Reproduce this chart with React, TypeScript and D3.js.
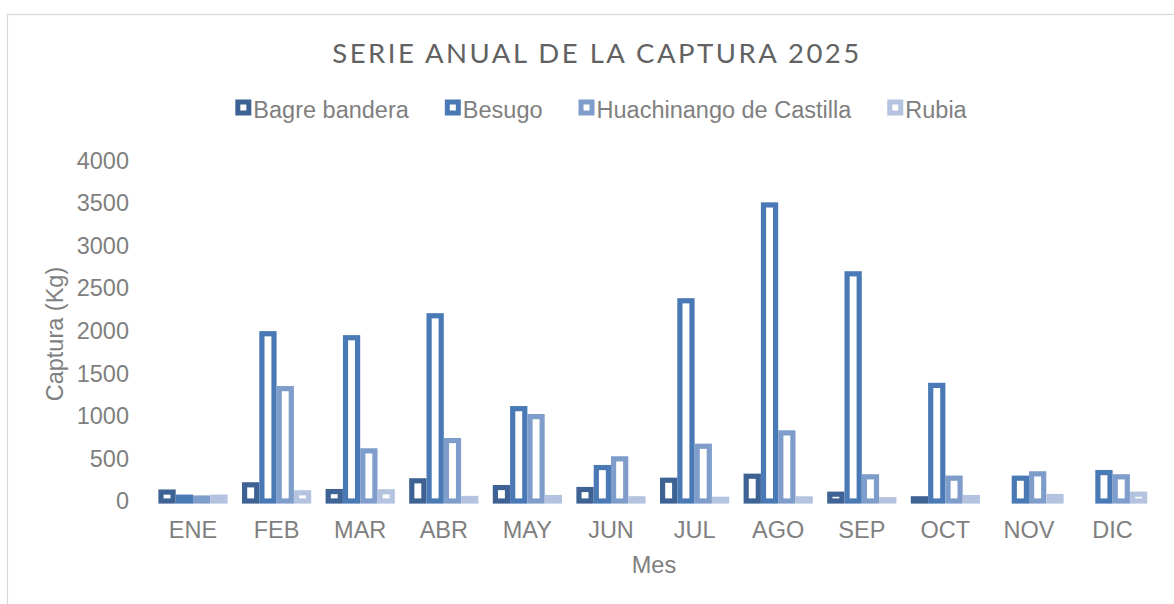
import React, { useEffect, useRef } from "react";
import * as d3 from "d3";

const months = ["ENE", "FEB", "MAR", "ABR", "MAY", "JUN", "JUL", "AGO", "SEP", "OCT", "NOV", "DIC"];
const seriesNames = ["Bagre bandera", "Besugo", "Huachinango de Castilla", "Rubia"];
const bagreBandera = [105, 190, 111, 237, 158, 135, 244, 291, 80, 26, 0, 0];
const besugo = [45, 1965, 1918, 2176, 1085, 393, 2352, 3478, 2669, 1358, 268, 334];
const huachinango = [35, 1320, 589, 710, 991, 495, 643, 800, 284, 268, 319, 284];
const rubia = [45, 96, 108, 30, 41, 26, 20, 25, 15, 41, 53, 80];
const yTicks = [0, 500, 1000, 1500, 2000, 2500, 3000, 3500, 4000];
const colors = ["#3D6293", "#4A7AB5", "#7F9DCB", "#B4C3E0"];

const W = 1174;
const H = 604;

export default function App() {
  const ref = useRef<SVGSVGElement | null>(null);

  useEffect(() => {
    const svg = d3.select(ref.current);
    svg.selectAll("*").remove();
    const values = [bagreBandera, besugo, huachinango, rubia];

    // frame
    svg.append("rect").attr("x", 7.5).attr("y", 14.5).attr("width", 1200).attr("height", 700)
      .attr("fill", "#fff").attr("stroke", "#D9D9D9").attr("stroke-width", 1.2);

    const x = d3.scaleBand<string>().domain(months).range([151.2, 1154.4])
      .paddingInner(0.172).paddingOuter(0.086);
    const xs = d3.scaleBand<string>().domain(seriesNames).range([0, x.bandwidth()]);
    const y = d3.scaleLinear().domain([0, 4000]).range([501, 160.5]);

    const font = "'Liberation Sans', Arial, sans-serif";
    const gray = "#7F7F7F";
    const sw = 5.2;

    // title
    svg.append("text").attr("x", 597).attr("y", 63).attr("text-anchor", "middle")
      .attr("font-family", "Lato, sans-serif").attr("font-size", 27.5).attr("letter-spacing", 2.5)
      .attr("fill", "#626262").text("SERIE ANUAL DE LA CAPTURA 2025");

    // y ticks
    svg.append("g").selectAll("text").data(yTicks).join("text")
      .attr("x", 129).attr("y", (d) => y(d)).attr("dy", "0.35em").attr("text-anchor", "end")
      .attr("font-family", font).attr("font-size", 23.5).attr("fill", gray).text((d) => String(d));

    // x labels
    svg.append("g").selectAll("text").data(months).join("text")
      .attr("x", (d) => (x(d) as number) + x.bandwidth() / 2).attr("y", 538).attr("text-anchor", "middle")
      .attr("font-family", font).attr("font-size", 23.5).attr("fill", gray).text((d) => d);

    // axis titles
    svg.append("text").attr("x", 654).attr("y", 573).attr("text-anchor", "middle")
      .attr("font-family", font).attr("font-size", 23.5).attr("fill", gray).text("Mes");
    svg.append("text").attr("transform", "translate(63,334) rotate(-90)").attr("text-anchor", "middle")
      .attr("font-family", font).attr("font-size", 23.5).attr("fill", gray).text("Captura (Kg)");

    // bars
    seriesNames.forEach((s, si) => {
      svg.append("g").selectAll("rect").data(months.map((m, i) => ({ m, v: values[si][i] })))
        .join("rect")
        .attr("x", (d) => (x(d.m) as number) + (xs(s) as number) + sw / 2)
        .attr("width", xs.bandwidth() - sw)
        .attr("y", (d) => y(d.v))
        .attr("height", (d) => y(0) - y(d.v))
        .attr("fill", "none")
        .attr("stroke", colors[si])
        .attr("stroke-width", sw);
    });

    // legend
    const lg = svg.append("g");
    const items = seriesNames.map((s, i) => {
      const g = lg.append("g");
      g.append("rect").attr("x", 2.5).attr("y", -8).attr("width", 11).attr("height", 11)
        .attr("fill", "#fff").attr("stroke", colors[i]).attr("stroke-width", 5);
      const t = g.append("text").attr("x", 18).attr("y", 0).attr("dy", "0.35em")
        .attr("font-family", font).attr("font-size", 23.5).attr("fill", gray).text(s);
      const w = 18 + (t.node() as SVGTextElement).getComputedTextLength();
      return { g, w };
    });
    const gap = 36;
    const total = d3.sum(items, (d) => d.w) + gap * (items.length - 1);
    let cx = 601 - total / 2;
    items.forEach((it) => {
      it.g.attr("transform", `translate(${cx},110)`);
      cx += it.w + gap;
    });
  }, []);

  return (
    <svg ref={ref} width={W} height={H}
      style={{ position: "absolute", left: 0, top: 0, display: "block", background: "#fff" }} />
  );
}
